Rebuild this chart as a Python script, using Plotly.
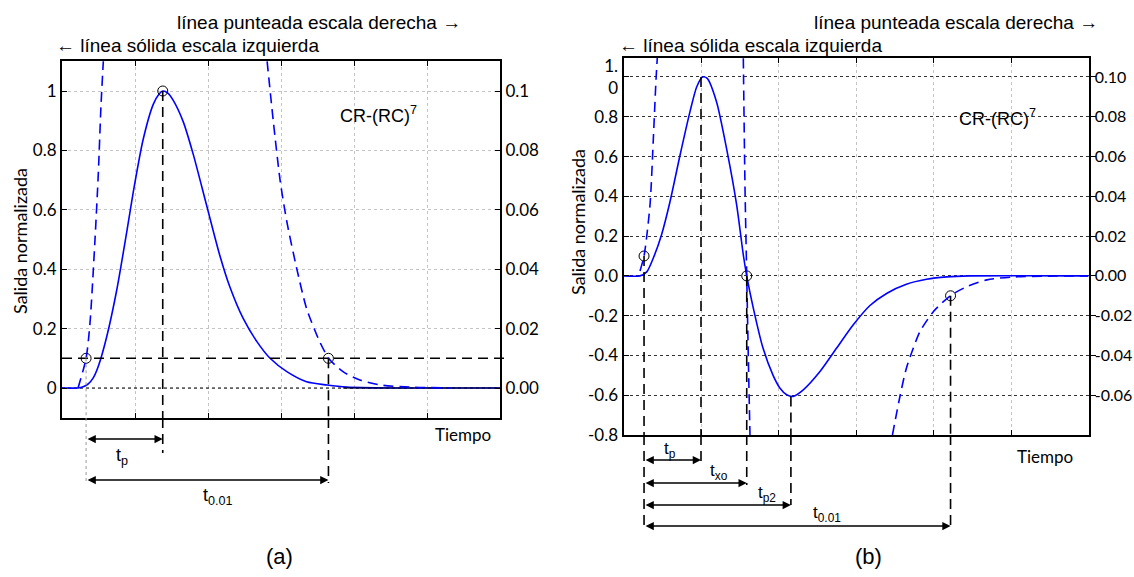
import plotly.graph_objects as go

W, H = 1134, 577
def px(x): return x / W
def py(y): return 1 - y / H

# ---------------- data: panel (a) ----------------
sol_a_x = [0, 0.22, 0.29, 0.36, 0.43, 0.50, 0.61, 0.75, 0.89, 0.98, 1.11, 1.25, 1.33, 1.38, 1.45, 1.52,
           1.66, 1.80, 1.98, 2.16, 2.30, 2.48, 2.67, 2.85, 3.08, 3.35, 3.63, 3.90, 4.5, 6.0]
sol_a_y = [0, 0, 0.004, 0.014, 0.035, 0.075, 0.17, 0.33, 0.53, 0.665, 0.835, 0.955, 0.99, 1.0, 0.993, 0.97,
           0.897, 0.785, 0.616, 0.448, 0.340, 0.235, 0.156, 0.10, 0.055, 0.021, 0.01, 0.003, 0, 0]
# dashed (right scale)
dash_a_x = [0.22, 0.33, 0.384, 0.452, 0.497, 0.534, 0.566, None,
            2.81, 2.895, 2.99, 3.08, 3.215, 3.35, 3.53, 3.66, 3.85, 4.08, 4.36, 4.8, 5.32]
dash_a_y = [0, 0.010, 0.022, 0.050, 0.072, 0.095, 0.110, None,
            0.110, 0.0897, 0.0695, 0.056, 0.0403, 0.0268, 0.0156, 0.0098, 0.0055, 0.0027, 0.001, 0.0003, 0]
tail_a_x = [3.85, 6.0]
tail_a_y = [0, 0]
mark_a_x = [0.33, 1.38, 3.65]
mark_a_y = [0.1, 1.0, 0.1]
t_start_a, t_peak_a, t_001_a = 0.33, 1.38, 3.65
thr_a = 0.1

# ---------------- data: panel (b) ----------------
sol_b_x = [0, 0.213, 0.30, 0.385, 0.49, 0.60, 0.73, 0.858, 0.944, 1.02, 1.08, 1.20, 1.33, 1.46, 1.546, 1.59,
           1.675, 1.80, 1.93, 2.02, 2.105, 2.19, 2.32, 2.535, 2.75, 2.965, 3.18, 3.40, 3.65, 3.91, 4.17,
           4.47, 6.0]
sol_b_y = [0, 0, 0.02, 0.09, 0.206, 0.373, 0.608, 0.826, 0.95, 1.0, 0.993, 0.876, 0.64, 0.357, 0.105, 0,
           -0.162, -0.363, -0.50, -0.565, -0.598, -0.606, -0.573, -0.481, -0.363, -0.246, -0.149, -0.087,
           -0.042, -0.017, -0.005, 0, 0]
dash_b_x = [0.213, 0.265, 0.342, 0.385, 0.42, 0.436, None,
            1.546, 1.568, 1.59, 1.61, 1.632, None,
            3.47, 3.57, 3.65, 3.74, 3.825, 4.0, 4.22, 4.43, 4.69, 5.05, 6.0]
dash_b_y = [0.0025, 0.010, 0.0357, 0.069, 0.099, 0.1097, None,
            0.1094, 0.044, 0, -0.040, -0.080, None,
            -0.080, -0.060, -0.0464, -0.0363, -0.028, -0.0179, -0.0099, -0.0054, -0.0020, -0.0005, 0]
mark_b_x = [0.265, 1.59, 4.22]
mark_b_y = [0.1, 0.0, -0.1]
t_start_b, t_peak_b, t_xo_b, t_p2_b, t_001_b = 0.265, 1.0, 1.59, 2.16, 4.22
y_peak_b, y_xo_b, y_p2_b, y_001_b = 1.0, 0.0, -0.606, -0.1

# tick labels
ya_vals = [0, 0.2, 0.4, 0.6, 0.8, 1.0]
ya_text = ['0', '0.2', '0.4', '0.6', '0.8', '1']
ya2_vals = [0, 0.02, 0.04, 0.06, 0.08, 0.1]
ya2_text = ['0.00', '0.02', '0.04', '0.06', '0.08', '0.1']
yb_vals = [-0.8, -0.6, -0.4, -0.2, 0.0, 0.2, 0.4, 0.6, 0.8, 1.0]
yb_text = ['-0.8', '-0.6', '-0.4', '-0.2', '0.0', '0.2', '0.4', '0.6', '0.8', '1.<br>0']
yb2_vals = [-0.06, -0.04, -0.02, 0.0, 0.02, 0.04, 0.06, 0.08, 0.10]
yb2_text = ['-0.06', '-0.04', '-0.02', '0.00', '0.02', '0.04', '0.06', '0.08', '0.10']
x_ticks = [1, 2, 3, 4, 5]

BLUE = '#0000ff'
LATO = 'Lato, Open Sans, sans-serif'
TICKF = dict(family=LATO, size=17, color='black')
ARIAL = 'Liberation Sans, Arial, sans-serif'

fig = go.Figure()
SPL = dict(shape='spline', smoothing=0.7)
# panel a traces
fig.add_trace(go.Scatter(x=sol_a_x, y=sol_a_y, xaxis='x', yaxis='y', mode='lines',
                         line=dict(color=BLUE, width=1.6, **SPL), hoverinfo='skip'))
fig.add_trace(go.Scatter(x=tail_a_x, y=tail_a_y, xaxis='x', yaxis='y', mode='lines',
                         line=dict(color='black', width=1.2), hoverinfo='skip'))
fig.add_trace(go.Scatter(x=dash_a_x, y=dash_a_y, xaxis='x', yaxis='y2', mode='lines', connectgaps=False,
                         line=dict(color=BLUE, width=1.6, dash='10px,6px', **SPL), hoverinfo='skip'))
fig.add_trace(go.Scatter(x=mark_a_x, y=mark_a_y, xaxis='x', yaxis='y', mode='markers',
                         marker=dict(symbol='circle-open', size=10, color='black', line=dict(width=1)),
                         hoverinfo='skip'))
# panel b traces
fig.add_trace(go.Scatter(x=sol_b_x, y=sol_b_y, xaxis='x2', yaxis='y3', mode='lines',
                         line=dict(color=BLUE, width=1.6, **SPL), hoverinfo='skip'))
fig.add_trace(go.Scatter(x=dash_b_x, y=dash_b_y, xaxis='x2', yaxis='y4', mode='lines', connectgaps=False,
                         line=dict(color=BLUE, width=1.6, dash='10px,6px', **SPL), hoverinfo='skip'))
fig.add_trace(go.Scatter(x=mark_b_x, y=mark_b_y, xaxis='x2', yaxis='y3', mode='markers',
                         marker=dict(symbol='circle-open', size=10, color='black', line=dict(width=1)),
                         hoverinfo='skip'))

ax_common = dict(showline=True, linecolor='black', linewidth=2, zeroline=False,
                 ticks='inside', ticklen=5, tickcolor='black', tickwidth=1)

fig.update_layout(
    width=W, height=H, autosize=False, showlegend=False,
    margin=dict(l=0, r=0, t=0, b=0, pad=0), paper_bgcolor='white', plot_bgcolor='white',
    xaxis=dict(domain=[px(62), px(500)], range=[0, 6], anchor='y', tickvals=x_ticks, showticklabels=False,
               showgrid=True, gridcolor='#c4c4c4', griddash='dot', gridwidth=1, mirror='ticks',
               automargin=False, **ax_common),
    yaxis=dict(domain=[py(418), py(61)], range=[-0.101, 1.101], anchor='x', tickvals=ya_vals, ticktext=ya_text,
               tickfont=TICKF, showgrid=True, gridcolor='#c4c4c4', griddash='dot', gridwidth=1,
               mirror=True, automargin=False, **ax_common),
    yaxis2=dict(overlaying='y', side='right', anchor='x', range=[-0.0101, 0.1101], tickvals=ya2_vals,
                ticktext=ya2_text, tickfont=TICKF, showgrid=False, automargin=False, **ax_common),
    xaxis2=dict(domain=[px(623.5), px(1088.5)], range=[0, 6], anchor='y3', tickvals=x_ticks,
                showticklabels=False, showgrid=True, gridcolor='#c4c4c4', griddash='dot', gridwidth=1,
                mirror='ticks', automargin=False, **ax_common),
    yaxis3=dict(domain=[py(435), py(57.7)], range=[-0.8, 1.097], anchor='x2', tickvals=yb_vals,
                ticktext=yb_text, tickfont=TICKF, showgrid=True, gridcolor='#333333', griddash='dot',
                gridwidth=1, mirror=True, automargin=False, **ax_common),
    yaxis4=dict(overlaying='y3', side='right', anchor='x2', range=[-0.08, 0.1097], tickvals=yb2_vals,
                ticktext=yb2_text, tickfont=dict(family=LATO, size=16, color='black'), showgrid=False,
                automargin=False, ticklabelstandoff=-4,
                showline=True, linecolor='black', linewidth=2, zeroline=False,
                ticks='outside', ticklen=5, tickcolor='black', tickwidth=1),
)

DASHK = dict(color='black', width=1.6, dash='10px,6px')
shapes = []
# panel a: dotted zero line, threshold line, vertical markers
shapes.append(dict(type='line', xref='x', yref='y', x0=0, x1=6, y0=0, y1=0,
                   line=dict(color='black', width=1, dash='dot'), layer='between'))
shapes.append(dict(type='line', xref='paper', yref='y', x0=px(62), x1=px(509), y0=thr_a, y1=thr_a, line=DASHK))
for t, y0, yend in [(t_peak_a, 1.0, 453), (t_001_a, thr_a, 483)]:
    shapes.append(dict(type='line', xref='x', yref='y', x0=t, x1=t, y0=y0, y1=-0.101, line=DASHK))
    shapes.append(dict(type='line', xref='x', yref='paper', x0=t, x1=t, y0=py(418), y1=py(yend), line=DASHK))
GRY = dict(color='#999999', width=1, dash='dot')
shapes.append(dict(type='line', xref='x', yref='y', x0=t_start_a, x1=t_start_a, y0=thr_a, y1=-0.101, line=GRY))
shapes.append(dict(type='line', xref='x', yref='paper', x0=t_start_a, x1=t_start_a, y0=py(418), y1=py(481), line=GRY))
# panel b vertical markers
for t, y0, yend in [(t_start_b, 0.1, 527), (t_peak_b, y_peak_b, 465), (t_xo_b, y_xo_b, 485),
                    (t_p2_b, y_p2_b, 505), (t_001_b, y_001_b, 527)]:
    shapes.append(dict(type='line', xref='x2', yref='y3', x0=t, x1=t, y0=y0, y1=-0.8, line=DASHK))
    shapes.append(dict(type='line', xref='x2', yref='paper', x0=t, x1=t, y0=py(435), y1=py(yend), line=DASHK))
fig.update_layout(shapes=shapes)

def harrow(xa, x0, x1, ypx):
    fig.add_annotation(x=x1, y=py(ypx), ax=x0, ay=0, xref=xa, yref='paper', axref=xa, ayref='pixel',
                       text='', showarrow=True, arrowhead=2, arrowside='end+start', arrowsize=1.1,
                       arrowwidth=1.5, arrowcolor='black', standoff=0, startstandoff=0)

harrow('x', t_start_a, t_peak_a, 439)
harrow('x', t_start_a, t_001_a, 480)
harrow('x2', t_start_b, t_peak_b, 460)
harrow('x2', t_start_b, t_xo_b, 483)
harrow('x2', t_start_b, t_p2_b, 505)
harrow('x2', t_start_b, t_001_b, 526)

def txt(x, y, s, size=18, family=ARIAL, xanchor='center', angle=0):
    fig.add_annotation(x=px(x), y=py(y), xref='paper', yref='paper', text=s, showarrow=False,
                       xanchor=xanchor, yanchor='middle', textangle=angle,
                       font=dict(family=family, size=size, color='black'))

# top headers
txt(319, 22, 'línea punteada escala derecha →', 19)
txt(187, 45, '← línea sólida escala izquierda', 19)
txt(956, 22, 'línea punteada escala derecha →', 19)
txt(750, 45, '← línea sólida escala izquierda', 19)
# formula labels
txt(378, 114, 'CR-(RC)<sup>7</sup>', 18)
txt(997, 117, 'CR-(RC)<sup>7</sup>', 18)
# axis titles
txt(20, 241, 'Salida normalizada', 18, LATO, angle=-90)
txt(578, 222, 'Salida normalizada', 18, LATO, angle=-90)
txt(493, 434, 'Tiempo', 17, LATO, xanchor='right')
txt(1075, 456, 'Tiempo', 17, LATO, xanchor='right')
# time labels
txt(122, 456, 't<sub>p</sub>', 18)
txt(218, 496, 't<sub>0.01</sub>', 18)
txt(670, 450, 't<sub>p</sub>', 17)
txt(719, 472, 't<sub>xo</sub>', 17)
txt(767, 494, 't<sub>p2</sub>', 17)
txt(827, 514, 't<sub>0.01</sub>', 17)
# panel labels
txt(279, 556, '(a)', 22)
txt(868, 556, '(b)', 22)

fig.write_html('out.html', config={'displayModeBar': False},
               post_script="document.body.style.margin='0';document.body.style.overflow='hidden';")
